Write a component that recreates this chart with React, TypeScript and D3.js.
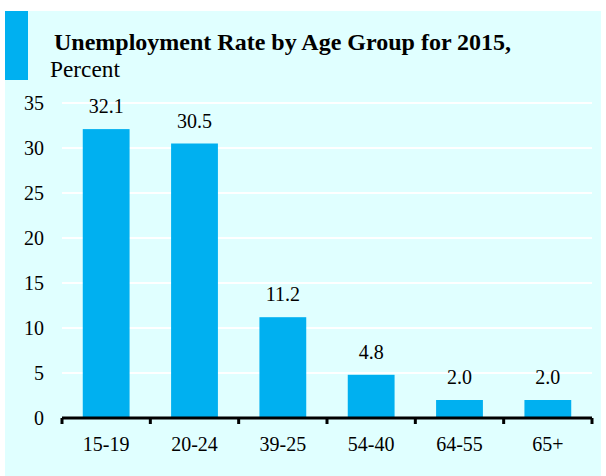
import React from "react";
import * as d3 from "d3";

const categories = ["15-19", "20-24", "39-25", "54-40", "64-55", "65+"];
const values = [32.1, 30.5, 11.2, 4.8, 2.0, 2.0];
const yTicks = [0, 5, 10, 15, 20, 25, 30, 35];

const tf = { fontFamily: "Liberation Serif" };

export default function App() {
  const W = 606, H = 476;
  const x0 = 62, x1 = 592, y0 = 418, yTop = 103;
  const x = d3.scaleBand<string>().domain(categories).range([x0, x1]).paddingInner(0.47).paddingOuter(0.235);
  const y = d3.scaleLinear().domain([0, 35]).range([y0, yTop]);
  const band = (x1 - x0) / categories.length;
  return (
    <svg width={W} height={H} style={{ position: "absolute", left: 0, top: 0 }}>
      <rect x={5} y={11} width={596} height={H - 11} fill="#e0ffff" />
      <rect x={5} y={11} width={23} height={69} fill="#00b0f0" />
      <text x={54} y={50} fontSize={24} fontWeight="bold" fill="#000" style={tf}>Unemployment Rate by Age Group for 2015,</text>
      <text x={50} y={77} fontSize={23.3} fill="#000" style={tf}>Percent</text>
      {yTicks.filter(t => t > 0).map(t => (
        <line key={t} x1={x0} x2={x1} y1={y(t)} y2={y(t)} stroke="#fff" strokeWidth={2} />
      ))}
      {yTicks.map(t => (
        <text key={t} x={44} y={y(t) + 7} fontSize={20} textAnchor="end" fill="#000" style={tf}>{t}</text>
      ))}
      {categories.map((c, i) => (
        <g key={c}>
          <rect x={x(c)} y={y(values[i])} width={x.bandwidth()} height={y0 - y(values[i])} fill="#00b0f0" />
          <text x={(x(c) as number) + x.bandwidth() / 2} y={y(values[i]) - 16} fontSize={20} textAnchor="middle" fill="#000" style={tf}>{values[i].toFixed(1)}</text>
          <text x={(x(c) as number) + x.bandwidth() / 2} y={451} fontSize={20} textAnchor="middle" fill="#000" style={tf}>{c}</text>
        </g>
      ))}
      <line x1={x0} x2={x1} y1={y0} y2={y0} stroke="#000" strokeWidth={3} />
      {d3.range(categories.length + 1).map(i => (
        <line key={i} x1={x0 + i * band} x2={x0 + i * band} y1={y0} y2={y0 + 6} stroke="#000" strokeWidth={3} />
      ))}
    </svg>
  );
}
